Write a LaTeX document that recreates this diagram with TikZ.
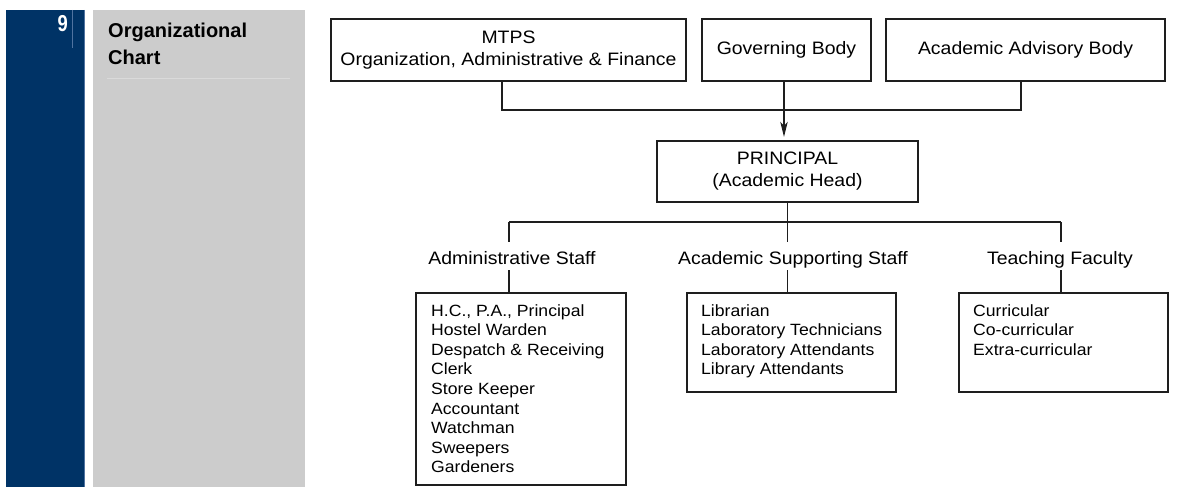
\documentclass[tikz,border=0pt]{standalone}
\usepackage{fontspec}
\setmainfont{Liberation Sans}
\newfontfamily\bfnt[FakeStretch=1.08]{Liberation Sans}
\newfontfamily\numfnt[FakeStretch=0.8]{Liberation Sans}
\usetikzlibrary{arrows.meta}
\definecolor{navy}{RGB}{0,51,102}
\definecolor{navyl}{RGB}{80,115,160}
\definecolor{panelgray}{RGB}{204,204,204}
\definecolor{sepgray}{RGB}{218,218,218}
\definecolor{ink}{RGB}{30,30,30}
\begin{document}
\begin{tikzpicture}[x=1pt,y=-1pt,
  box/.style={draw=ink,line width=1.3pt,inner sep=0pt,align=center,font=\bfnt\fontsize{18}{22}\selectfont},
  listbox/.style={draw=ink,line width=1.3pt,inner sep=0pt},
  listtxt/.style={inner sep=0pt,anchor=north west,align=left,font=\bfnt\fontsize{16.3}{19.6}\selectfont},
  lbl/.style={inner sep=0pt,anchor=base,text height=13pt,text depth=4pt,font=\bfnt\fontsize{18}{22}\selectfont},
  conn/.style={draw=ink,line width=1.3pt},
]
\useasboundingbox (0,0) rectangle (1186,487);
% left panel
\fill[navy] (6,10) rectangle (85,487);
\draw[navyl,line width=0.6pt] (84.7,10) -- (84.7,487);
\draw[navyl,line width=0.8pt] (72,10) -- (72,48);
\node[font=\numfnt\bfseries\fontsize{23}{23}\selectfont,text=white,anchor=north east,inner sep=0pt] (num) at (68,15.5) {9};
\fill[panelgray] (93,10) rectangle (305,487);
\node[font=\bfseries\fontsize{20}{27}\selectfont,anchor=north west,inner sep=0pt,align=left] (title) at (108,23) {Organizational\\Chart};
\draw[sepgray,line width=0.8pt] (107,78) -- (290,78);
% top row
\node[box,minimum width=355pt,minimum height=62pt] (mtps) at (508.5,50) {MTPS\\Organization, Administrative \& Finance};
\node[box,minimum width=169pt,minimum height=62pt] (gov) at (786.5,50) {Governing Body};
\node[box,minimum width=279pt,minimum height=62pt] (aab) at (1025.5,50) {Academic Advisory Body};
\node[box,minimum width=261pt,minimum height=61pt] (principal) at (787.5,171.5) {PRINCIPAL\\(Academic Head)};
\coordinate (jL) at (502,110);
\coordinate (jR) at (1021,110);
\coordinate (ga) at (784,110);
\draw[conn] (jL |- mtps.south) -- (jL) -- (jR) -- (jR |- aab.south);
\draw[conn,shorten >=3.5pt,-{Stealth[length=15pt,width=7.5pt,inset=4pt]}] (ga |- gov.south) -- (ga |- principal.north);
% labels
\node[lbl] (adminlbl) at (512,264) {Administrative Staff};
\node[lbl] (acadlbl) at (793,264) {Academic Supporting Staff};
\node[lbl] (teachlbl) at (1060,264) {Teaching Faculty};
% list boxes
\node[listbox,minimum width=210pt,minimum height=192pt] (adminbox) at (521,389) {};
\node[listbox,minimum width=209pt,minimum height=99pt] (acadbox) at (791.5,342.5) {};
\node[listbox,minimum width=209pt,minimum height=99pt] (teachbox) at (1063.5,342.5) {};
\node[listtxt] (admintxt) at (431,304) {H.C., P.A., Principal\\Hostel Warden\\Despatch \& Receiving\\Clerk\\Store Keeper\\Accountant\\Watchman\\Sweepers\\Gardeners};
\node[listtxt] (acadtxt) at (701,304) {Librarian\\Laboratory Technicians\\Laboratory Attendants\\Library Attendants};
\node[listtxt] (teachtxt) at (973,304) {Curricular\\Co-curricular\\Extra-curricular};
% branch connectors
\coordinate (dA) at (509,222);
\coordinate (dC) at (1061,222);
\draw[conn] (dA) -- (dC);
\draw[conn,shorten >=9pt] (principal.south) -- (principal.south |- acadlbl.north);
\draw[conn,shorten >=9pt] (dA) -- (dA |- adminlbl.north);
\draw[conn,shorten >=9pt] (dC) -- (dC |- teachlbl.north);
\draw[conn,shorten <=2pt] (dA |- adminlbl.south) -- (dA |- adminbox.north);
\draw[conn,shorten <=2pt] (principal.south |- acadlbl.south) -- (principal.south |- acadbox.north);
\draw[conn,shorten <=2pt] (dC |- teachlbl.south) -- (dC |- teachbox.north);
\end{tikzpicture}
\end{document}
